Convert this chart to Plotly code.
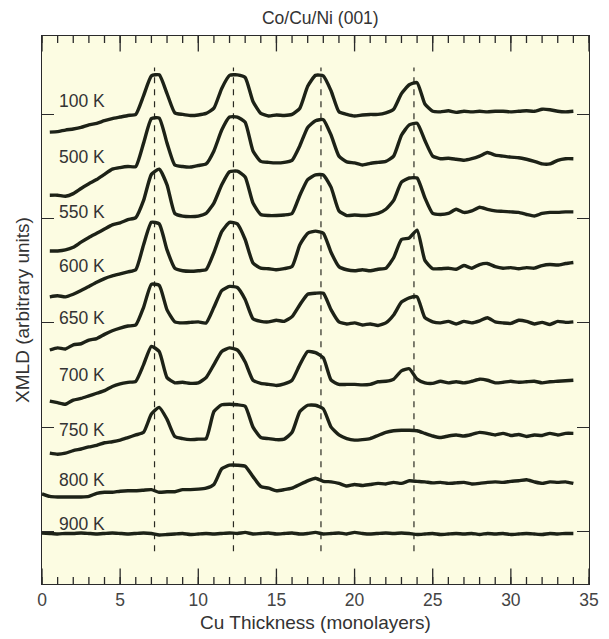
import plotly.graph_objects as go

# Cu thickness sampling grid (monolayers)
thickness = [i * 0.5 for i in range(69)]

temperatures = ["100 K", "500 K", "550 K", "600 K", "650 K", "700 K", "750 K", "800 K", "900 K"]
offsets = [8, 7, 6, 5, 4, 3, 2, 1, 0]

xmld_100K = [None, -0.34, -0.33, -0.30, -0.28, -0.25, -0.20, -0.17, -0.12, -0.08,
             -0.05, -0.02, 0.00, 0.36, 0.74, 0.76, 0.40, 0.03, 0.00, -0.02,
             -0.01, 0.02, 0.12, 0.50, 0.75, 0.76, 0.71, 0.25, 0.02, -0.03,
             -0.01, -0.02, 0.00, 0.12, 0.54, 0.75, 0.74, 0.45, 0.05, 0.00,
             -0.03, -0.01, 0.00, 0.00, 0.03, 0.10, 0.40, 0.57, 0.61, 0.20,
             0.06, 0.05, 0.07, 0.04, 0.06, 0.05, 0.06, 0.05, 0.06, 0.06,
             0.05, 0.06, 0.07, 0.06, 0.10, 0.09, 0.06, 0.05, 0.06]
xmld_500K = [None, -0.55, -0.55, -0.57, -0.52, -0.42, -0.33, -0.25, -0.15, -0.05,
             -0.02, 0.00, 0.00, 0.45, 0.92, 0.93, 0.45, 0.03, 0.00, -0.01,
             0.02, 0.05, 0.30, 0.70, 0.95, 0.95, 0.85, 0.30, 0.10, 0.08,
             0.07, 0.08, 0.12, 0.40, 0.75, 0.88, 0.90, 0.60, 0.20, 0.09,
             0.07, 0.03, 0.06, 0.08, 0.10, 0.20, 0.60, 0.80, 0.83, 0.50,
             0.20, 0.15, 0.16, 0.14, 0.12, 0.15, 0.20, 0.27, 0.22, 0.20,
             0.18, 0.17, 0.14, 0.10, 0.05, 0.05, 0.12, 0.15, 0.15]
xmld_550K = [None, -0.62, -0.62, -0.60, -0.55, -0.45, -0.36, -0.28, -0.20, -0.12,
             -0.08, -0.02, 0.02, 0.35, 0.85, 0.95, 0.65, 0.10, 0.05, 0.04,
             0.05, 0.10, 0.30, 0.65, 0.90, 0.91, 0.80, 0.30, 0.08, 0.06,
             0.06, 0.07, 0.10, 0.45, 0.75, 0.84, 0.84, 0.60, 0.15, 0.06,
             0.07, 0.06, 0.07, 0.10, 0.18, 0.35, 0.70, 0.78, 0.78, 0.40,
             0.10, 0.08, 0.10, 0.18, 0.12, 0.15, 0.22, 0.18, 0.15, 0.14,
             0.13, 0.12, 0.08, 0.05, 0.10, 0.12, 0.12, 0.13, 0.13]
xmld_600K = [None, -0.50, -0.48, -0.50, -0.45, -0.38, -0.30, -0.22, -0.15, -0.10,
             -0.06, -0.02, 0.02, 0.50, 0.93, 0.90, 0.40, 0.05, 0.00, -0.01,
             0.00, 0.02, 0.35, 0.75, 0.93, 0.90, 0.60, 0.15, 0.05, 0.04,
             0.02, 0.04, 0.08, 0.50, 0.72, 0.76, 0.72, 0.35, 0.08, 0.02,
             0.00, 0.02, 0.00, 0.03, 0.05, 0.25, 0.60, 0.63, 0.78, 0.20,
             0.04, 0.04, 0.05, 0.03, 0.10, 0.05, 0.12, 0.14, 0.08, 0.05,
             0.06, 0.04, 0.06, 0.05, 0.10, 0.12, 0.11, 0.14, 0.16]
xmld_650K = [None, -0.52, -0.48, -0.50, -0.42, -0.40, -0.33, -0.30, -0.22, -0.15,
             -0.10, -0.06, -0.04, 0.30, 0.74, 0.72, 0.25, 0.02, 0.00, 0.01,
             0.02, 0.00, 0.30, 0.62, 0.70, 0.68, 0.45, 0.08, 0.03, 0.02,
             0.05, 0.03, 0.12, 0.35, 0.55, 0.57, 0.57, 0.25, 0.02, -0.02,
             0.00, -0.04, -0.02, -0.05, 0.00, 0.15, 0.40, 0.48, 0.50, 0.10,
             0.02, 0.00, 0.03, -0.02, 0.03, 0.00, 0.04, 0.10, 0.02, 0.00,
             -0.01, 0.05, 0.03, -0.02, 0.01, -0.03, 0.03, 0.01, 0.02]
xmld_700K = [None, -0.50, -0.53, -0.56, -0.48, -0.45, -0.40, -0.35, -0.30, -0.22,
             -0.17, -0.14, -0.12, 0.20, 0.55, 0.45, -0.05, -0.15, -0.14, -0.16,
             -0.15, -0.05, 0.20, 0.45, 0.52, 0.48, 0.25, -0.10, -0.16, -0.18,
             -0.20, -0.17, -0.10, 0.20, 0.45, 0.43, 0.33, -0.10, -0.18, -0.18,
             -0.18, -0.19, -0.18, -0.13, -0.12, -0.08, 0.08, 0.12, -0.08, -0.15,
             -0.16, -0.12, -0.15, -0.13, -0.15, -0.12, -0.08, -0.10, -0.15, -0.14,
             -0.12, -0.14, -0.13, -0.12, -0.15, -0.13, -0.12, -0.11, -0.10]
xmld_750K = [None, -0.50, -0.52, -0.50, -0.45, -0.42, -0.38, -0.35, -0.30, -0.28,
             -0.25, -0.20, -0.15, -0.10, 0.25, 0.38, 0.15, -0.18, -0.22, -0.24,
             -0.23, -0.22, 0.30, 0.43, 0.44, 0.43, 0.40, 0.00, -0.20, -0.22,
             -0.24, -0.23, -0.10, 0.30, 0.42, 0.42, 0.35, 0.00, -0.15, -0.22,
             -0.25, -0.24, -0.22, -0.16, -0.10, -0.07, -0.06, -0.06, -0.07, -0.12,
             -0.17, -0.20, -0.17, -0.15, -0.17, -0.14, -0.10, -0.12, -0.15, -0.12,
             -0.16, -0.14, -0.18, -0.15, -0.16, -0.12, -0.15, -0.12, -0.12]
xmld_800K = [-0.28, -0.33, -0.34, -0.34, -0.34, -0.34, -0.33, -0.27, -0.25, -0.25,
             -0.23, -0.22, -0.22, -0.21, -0.20, -0.25, -0.24, -0.24, -0.20, -0.20,
             -0.19, -0.17, -0.10, 0.20, 0.27, 0.27, 0.25, 0.05, -0.14, -0.17,
             -0.22, -0.20, -0.17, -0.10, -0.03, 0.02, -0.04, -0.05, -0.08, -0.13,
             -0.10, -0.12, -0.10, -0.08, -0.09, -0.06, -0.08, -0.03, -0.04, -0.05,
             -0.07, -0.06, -0.08, -0.07, -0.06, -0.09, -0.08, -0.06, -0.05, -0.06,
             -0.04, -0.03, -0.01, -0.05, -0.08, -0.05, -0.06, -0.05, -0.08]
xmld_900K = [-0.03, -0.04, -0.05, -0.04, -0.04, -0.03, -0.04, -0.05, -0.04, -0.03,
             -0.04, -0.05, -0.04, -0.03, -0.04, -0.07, -0.06, -0.05, -0.04, -0.06,
             -0.05, -0.04, -0.05, -0.04, -0.03, -0.04, -0.02, -0.05, -0.04, -0.03,
             -0.05, -0.04, -0.03, -0.05, -0.04, -0.02, -0.05, -0.04, -0.03, -0.05,
             -0.02, -0.04, -0.05, -0.04, -0.03, -0.04, -0.03, -0.04, -0.06, -0.05,
             -0.04, -0.06, -0.05, -0.04, -0.05, -0.04, -0.06, -0.04, -0.05, -0.04,
             -0.06, -0.05, -0.04, -0.05, -0.06, -0.04, -0.05, -0.04, -0.04]

curves = [xmld_100K, xmld_500K, xmld_550K, xmld_600K, xmld_650K,
          xmld_700K, xmld_750K, xmld_800K, xmld_900K]

# label positions (thickness, vertical position) next to each curve
label_x = [2.55, 2.55, 2.55, 2.55, 2.55, 2.55, 2.55, 2.55, 2.55]
label_y = [8.25, 7.18, 6.13, 5.10, 4.10, 3.00, 1.94, 0.99, 0.15]

# oscillation peak positions (dashed guides)
peak_positions = [7.2, 12.25, 17.85, 23.8]
guide_range = [-0.38, 8.9]

X_RANGE = [0, 35]
Y_RANGE = [-1.01, 9.505]
Y_TICKS = [0, 2, 4, 6, 8]
X_MAJOR = [0, 5, 10, 15, 20, 25, 30, 35]
X_MINOR = list(range(0, 36))

LINE = "#1d2217"
AXC = "#2a2a2a"
FONT = "Liberation Sans, Arial, Helvetica, sans-serif"

fig = go.Figure()

for p in peak_positions:
    fig.add_trace(go.Scatter(
        x=[p, p], y=guide_range, mode="lines",
        line=dict(color="#2a2a22", width=1.2, dash="6px,6px"),
        hoverinfo="skip", showlegend=False))

for name, off, vals in zip(temperatures, offsets, curves):
    fig.add_trace(go.Scatter(
        x=thickness,
        y=[None if v is None else v + off for v in vals],
        mode="lines", name=name,
        line=dict(color=LINE, width=3.4, shape="spline", smoothing=0.5),
        connectgaps=False, showlegend=False))

# inward x-axis tick marks on bottom and top frame edges (clipped at the frame,
# so only the inner half of each vertical mark is visible)
for edge in Y_RANGE:
    for ticks_x, size in [(X_MAJOR, 22), (X_MINOR, 10)]:
        fig.add_trace(go.Scatter(
            x=ticks_x, y=[edge] * len(ticks_x), mode="markers",
            marker=dict(symbol="line-ns", size=size,
                        line=dict(width=1.3, color=AXC)),
            cliponaxis=True, hoverinfo="skip", showlegend=False))

for name, lx, ly in zip(temperatures, label_x, label_y):
    fig.add_annotation(x=lx, y=ly, text=name, showarrow=False,
                       xanchor="center", yanchor="middle",
                       font=dict(family=FONT, size=17.5, color="#333333"))

fig.update_layout(
    width=609, height=639,
    margin=dict(l=42, r=10, t=36, b=51),
    paper_bgcolor="white",
    plot_bgcolor="#fcfce2",
    font=dict(family=FONT, color="#333333"),
    title=dict(text="Co/Cu/Ni (001)", x=0.526, xanchor="center",
               y=1 - 18 / 639, yanchor="middle",
               font=dict(family=FONT, size=17.5, color="#333333")),
    showlegend=False,
    xaxis=dict(
        range=X_RANGE, tickmode="array", tickvals=X_MAJOR,
        ticks="",
        showline=True, linecolor=AXC, linewidth=1, mirror=True,
        showgrid=False, zeroline=False,
        tickfont=dict(family=FONT, size=17.5, color="#444444"),
        title=dict(text="Cu Thickness (monolayers)", standoff=6,
                   font=dict(family=FONT, size=19, color="#333333")),
    ),
    yaxis=dict(
        range=Y_RANGE, tickmode="array", tickvals=Y_TICKS,
        showticklabels=False,
        ticks="inside", ticklen=12, tickwidth=1.3, tickcolor=AXC,
        showline=True, linecolor=AXC, linewidth=1, mirror="ticks",
        showgrid=False, zeroline=False,
        title=dict(text="XMLD (arbitrary units)", standoff=6,
                   font=dict(family=FONT, size=19, color="#333333")),
    ),
)

fig.write_html("out.html")
